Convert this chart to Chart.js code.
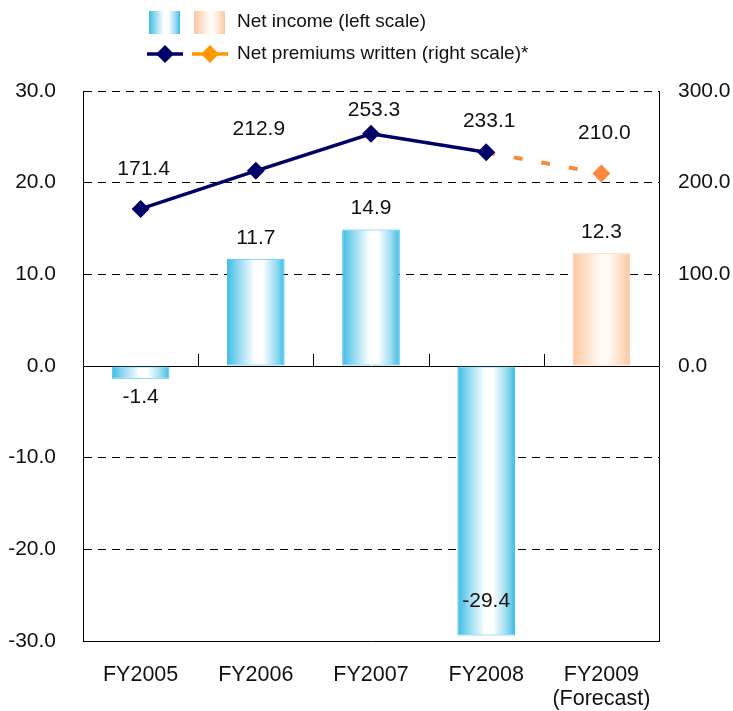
<!DOCTYPE html>
<html>
<head>
<meta charset="utf-8">
<title>Net income and net premiums written</title>
<script src="https://cdn.jsdelivr.net/npm/chart.js@4/dist/chart.umd.min.js"></script>
<style>
  body { margin: 0; background: #fff; }
  canvas { display: block; }
</style>
</head>
<body>
<canvas id="chart" width="733" height="711"></canvas>
<script>
// fiscal years and the two series
const years = [['FY2005'], ['FY2006'], ['FY2007'], ['FY2008'], ['FY2009', '(Forecast)']];
const netIncome = [-1.4, 11.7, 14.9, -29.4, 12.3];          // left scale
const netPremiums = [171.4, 212.9, 253.3, 233.1, 210.0];    // right scale
const leftTicks = [-30, -20, -10, 0, 10, 20, 30];
const rightTicks = [0, 100, 200, 300];
const forecastIndex = 4;

const FONT = '"Liberation Sans", Arial, Helvetica, sans-serif';
const TEXT = '#111';
const NAVY = '#000066';
const ORANGE_LINE = '#f78a3e';
const ORANGE_LEGEND = '#ff9900';
const BAR_PCT = 0.5;
// how far each premium label sits above its marker (kept clear of the top edge)
const premiumLabelLift = [40, 42, 24, 31, 40];

const blueBar = { edge: '#3cbde4', soft: '#9adcf1', mid: '#ffffff', border: '#45c0e6' };
const peachBar = { edge: '#fcc6a0', soft: '#fddcc4', mid: '#fffaf6', border: '#fcc9a6' };

function barGradient(ctx, x0, x1, c) {
  const g = ctx.createLinearGradient(x0, 0, x1, 0);
  g.addColorStop(0, c.edge);
  g.addColorStop(0.22, c.soft);
  g.addColorStop(0.48, c.mid);
  g.addColorStop(0.62, c.mid);
  g.addColorStop(0.85, c.soft);
  g.addColorStop(1, c.edge);
  return g;
}

function barColors(i) {
  return i === forecastIndex ? peachBar : blueBar;
}

// bar fill: horizontal edge-to-centre shading, worked out from the category scale
function barFill(context) {
  const chart = context.chart;
  const c = barColors(context.dataIndex);
  if (context.type !== 'data' || !chart.chartArea) return c.edge;
  const xs = chart.scales.x;
  const cx = xs.getPixelForValue(context.dataIndex);
  const half = xs.width / years.length * BAR_PCT / 2;
  return barGradient(chart.ctx, cx - half, cx + half, c);
}

// value labels over bars and line points
const valueLabels = {
  id: 'valueLabels',
  afterDatasetsDraw(chart) {
    const ctx = chart.ctx;
    const area = chart.chartArea;
    ctx.save();
    ctx.font = '21px ' + FONT;
    ctx.fillStyle = TEXT;
    ctx.textAlign = 'center';
    ctx.textBaseline = 'middle';

    chart.getDatasetMeta(0).data.forEach((el, i) => {
      const v = netIncome[i];
      let y;
      if (v >= 0) {
        y = el.y - 21;
      } else {
        y = el.y + 18;
        if (y > area.bottom - 14) y = el.y - 34;
      }
      ctx.fillText(v.toFixed(1), el.x, y);
    });

    chart.getDatasetMeta(1).data.forEach((el, i) => {
      ctx.fillText(netPremiums[i].toFixed(1), el.x + 3, el.y - premiumLabelLift[i]);
    });
    ctx.restore();
  }
};

// small upward ticks on the zero line between categories
const zeroTicks = {
  id: 'zeroTicks',
  beforeDatasetsDraw(chart) {
    const ctx = chart.ctx;
    const xs = chart.scales.x;
    const y0 = chart.scales.y.getPixelForValue(0);
    ctx.save();
    ctx.strokeStyle = '#000';
    ctx.lineWidth = 1;
    for (let i = 1; i < years.length; i++) {
      const x = Math.round((xs.getPixelForValue(i - 1) + xs.getPixelForValue(i)) / 2) + 0.5;
      ctx.beginPath();
      ctx.moveTo(x, y0 - 12);
      ctx.lineTo(x, y0);
      ctx.stroke();
    }
    ctx.restore();
  }
};

// legend above the plot
const topLegend = {
  id: 'topLegend',
  afterDraw(chart) {
    const ctx = chart.ctx;
    ctx.save();

    [[149, blueBar], [194, peachBar]].forEach(([x, c]) => {
      ctx.fillStyle = barGradient(ctx, x, x + 31, c);
      ctx.fillRect(x, 11, 31, 23);
    });

    function diamond(x, y, r, color) {
      ctx.fillStyle = color;
      ctx.beginPath();
      ctx.moveTo(x, y - r);
      ctx.lineTo(x + r, y);
      ctx.lineTo(x, y + r);
      ctx.lineTo(x - r, y);
      ctx.closePath();
      ctx.fill();
    }
    ctx.lineWidth = 3.5;
    ctx.strokeStyle = NAVY;
    ctx.beginPath(); ctx.moveTo(147, 54); ctx.lineTo(183, 54); ctx.stroke();
    diamond(165, 54, 9, NAVY);
    ctx.strokeStyle = ORANGE_LEGEND;
    ctx.beginPath(); ctx.moveTo(192, 54); ctx.lineTo(228, 54); ctx.stroke();
    diamond(210, 54, 9, ORANGE_LEGEND);

    ctx.font = '19px ' + FONT;
    ctx.fillStyle = TEXT;
    ctx.textAlign = 'left';
    ctx.textBaseline = 'middle';
    ctx.fillText('Net income (left scale)', 237, 22);
    ctx.fillText('Net premiums written (right scale)*', 237, 54);
    ctx.restore();
  }
};

new Chart(document.getElementById('chart'), {
  data: {
    labels: years,
    datasets: [
      {
        type: 'bar',
        label: 'Net income (left scale)',
        data: netIncome,
        yAxisID: 'y',
        order: 2,
        backgroundColor: barFill,
        borderColor: (c) => barColors(c.dataIndex).border,
        borderWidth: 1,
        borderSkipped: false,
        barPercentage: BAR_PCT,
        categoryPercentage: 1
      },
      {
        type: 'line',
        label: 'Net premiums written (right scale)*',
        data: netPremiums,
        yAxisID: 'y1',
        order: 1,
        borderColor: NAVY,
        borderWidth: 3.5,
        pointStyle: 'rectRot',
        pointRadius: 9,
        pointHoverRadius: 9,
        pointBorderWidth: 0,
        pointBackgroundColor: (c) => c.dataIndex === forecastIndex ? ORANGE_LINE : NAVY,
        pointBorderColor: (c) => c.dataIndex === forecastIndex ? ORANGE_LINE : NAVY,
        segment: {
          borderColor: (c) => c.p1DataIndex === forecastIndex ? ORANGE_LINE : NAVY,
          borderDash: (c) => c.p1DataIndex === forecastIndex ? [9, 19] : [],
          borderWidth: (c) => c.p1DataIndex === forecastIndex ? 4 : 3.5
        },
        tension: 0
      }
    ]
  },
  options: {
    responsive: false,
    devicePixelRatio: 1,
    animation: false,
    layout: { padding: { top: 91, left: 0, right: 0, bottom: 0 } },
    plugins: {
      legend: { display: false },
      tooltip: { enabled: false }
    },
    scales: {
      x: {
        grid: { display: false, drawTicks: false },
        border: { display: false },
        ticks: {
          color: TEXT,
          padding: 22,
          maxRotation: 0,
          font: { family: FONT, size: 21.5, lineHeight: 1.12 }
        },
        afterFit(scale) { scale.height = 70; }
      },
      y: {
        position: 'left',
        min: leftTicks[0],
        max: leftTicks[leftTicks.length - 1],
        afterBuildTicks(scale) { scale.ticks = leftTicks.map(v => ({ value: v })); },
        grid: {
          color: '#000',
          lineWidth: 1,
          drawTicks: false
        },
        border: {
          display: true,
          color: '#000',
          width: 1,
          dash: (c) => (c.tick && c.tick.value !== 0 && c.tick.value !== leftTicks[0]) ? [8, 6] : []
        },
        ticks: {
          color: TEXT,
          padding: 27,
          font: { family: FONT, size: 21 },
          callback: (v) => Number(v).toFixed(1)
        },
        afterFit(scale) { scale.width = 83; }
      },
      y1: {
        position: 'right',
        min: -300,
        max: 300,
        afterBuildTicks(scale) { scale.ticks = rightTicks.map(v => ({ value: v })); },
        grid: { display: false, drawTicks: false },
        border: { display: true, color: '#000', width: 1 },
        ticks: {
          color: TEXT,
          padding: 19,
          font: { family: FONT, size: 21 },
          callback: (v) => Number(v).toFixed(1)
        },
        afterFit(scale) { scale.width = 74; }
      }
    }
  },
  plugins: [zeroTicks, valueLabels, topLegend]
});
</script>
</body>
</html>
